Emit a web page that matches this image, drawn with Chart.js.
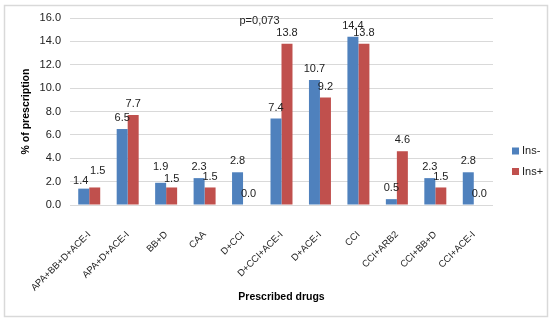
<!DOCTYPE html>
<html>
<head>
<meta charset="utf-8">
<script src="https://cdn.jsdelivr.net/npm/chart.js@4.4.1/dist/chart.umd.min.js"></script>
<style>
  html, body { margin: 0; padding: 0; background: #fff; }
  #wrap { position: relative; width: 552px; height: 322px; }
</style>
</head>
<body>
<div id="wrap"><canvas id="mychart" width="552" height="322"></canvas></div>
<script>
// chart data
var categories = ['APA+BB+D+ACE-I', 'APA+D+ACE-I', 'BB+D', 'CAA', 'D+CCI', 'D+CCI+ACE-I',
                  'D+ACE-I', 'CCI', 'CCI+ARB2', 'CCI+BB+D', 'CCI+ACE-I'];
var insMinus = [1.4, 6.5, 1.9, 2.3, 2.8, 7.4, 10.7, 14.4, 0.5, 2.3, 2.8];
var insPlus  = [1.5, 7.7, 1.5, 1.5, 0.0, 13.8, 9.2, 13.8, 4.6, 1.5, 0.0];
var seriesNames = ['Ins-', 'Ins+'];
var yTicks = [0, 2, 4, 6, 8, 10, 12, 14, 16];
var pNote = 'p=0,073';

var FONT = '"Liberation Sans", Arial, sans-serif';
var colors = ['#4F81BD', '#C0504D'];

// small manual nudges where the original moved labels apart (dx, dy in px)
var labelNudge = { '0-0': [-3, 3], '1-0': [3, -6], '0-2': [0, -5], '1-2': [0, 2] };

var extras = {
    id: 'extras',
    beforeDraw: function (chart) {
        var c = chart.ctx;
        c.save();
        c.fillStyle = '#fff';
        c.fillRect(0, 0, chart.width, chart.height);
        c.strokeStyle = '#d9d9d9';
        c.lineWidth = 1.5;
        c.strokeRect(4.5, 5.5, 543, 311);
        c.restore();
    },
    afterDatasetsDraw: function (chart) {
        var c = chart.ctx;
        c.save();
        c.font = '11px ' + FONT;
        c.fillStyle = '#222';
        c.textAlign = 'center';
        c.textBaseline = 'middle';
        chart.data.datasets.forEach(function (ds, di) {
            chart.getDatasetMeta(di).data.forEach(function (bar, i) {
                var n = labelNudge[di + '-' + i] || [0, 0];
                c.fillText(ds.data[i].toFixed(1), bar.x + n[0], bar.y - 11 + n[1]);
            });
        });
        // p value note
        var xs = chart.scales.x, ys = chart.scales.y;
        c.fillText(pNote, xs.getPixelForValue(5) - 22, ys.getPixelForValue(16) + 3);
        // legend
        c.textAlign = 'left';
        seriesNames.forEach(function (name, k) {
            var y = 151 + k * 20.5;
            c.fillStyle = colors[k];
            c.fillRect(512, y - 3.5, 7, 7);
            c.fillStyle = '#222';
            c.fillText(name, 522, y);
        });
        c.restore();
    }
};

var ctx = document.getElementById('mychart').getContext('2d');
var mychart = new Chart(ctx, {
    type: 'bar',
    data: {
        labels: categories,
        datasets: [{
            label: seriesNames[0],
            data: insMinus,
            backgroundColor: colors[0]
        }, {
            label: seriesNames[1],
            data: insPlus,
            backgroundColor: colors[1]
        }]
    },
    options: {
        responsive: false,
        animation: false,
        layout: { padding: { left: 20, top: 18, right: 59, bottom: 5 } },
        datasets: { bar: { categoryPercentage: 0.572, barPercentage: 1 } },
        plugins: { legend: { display: false }, tooltip: { enabled: false } },
        scales: {
            x: {
                grid: { display: false },
                border: { display: false },
                ticks: {
                    color: '#222',
                    font: { family: FONT, size: 9.5 },
                    maxRotation: 45, minRotation: 45,
                    padding: 16
                },
                title: {
                    display: true, text: 'Prescribed drugs', color: '#000',
                    font: { family: FONT, size: 10.5, weight: 'bold' },
                    padding: { top: 0, bottom: 14 }
                },
                afterFit: function (s) { s.height = 112; }
            },
            y: {
                min: 0, max: 16,
                afterBuildTicks: function (s) {
                    s.ticks = yTicks.map(function (v) { return { value: v }; });
                },
                grid: { color: '#d9d9d9', drawTicks: false },
                border: { display: false },
                ticks: {
                    color: '#222',
                    font: { family: FONT, size: 11 },
                    padding: 9,
                    callback: function (v) { return Number(v).toFixed(1); }
                },
                title: {
                    display: true, text: '% of prescription', color: '#000',
                    font: { family: FONT, size: 10.5, weight: 'bold' },
                    padding: { top: 0, bottom: 6 }
                },
                afterFit: function (s) { s.width = 50; }
            }
        }
    },
    plugins: [extras]
});
</script>
</body>
</html>
